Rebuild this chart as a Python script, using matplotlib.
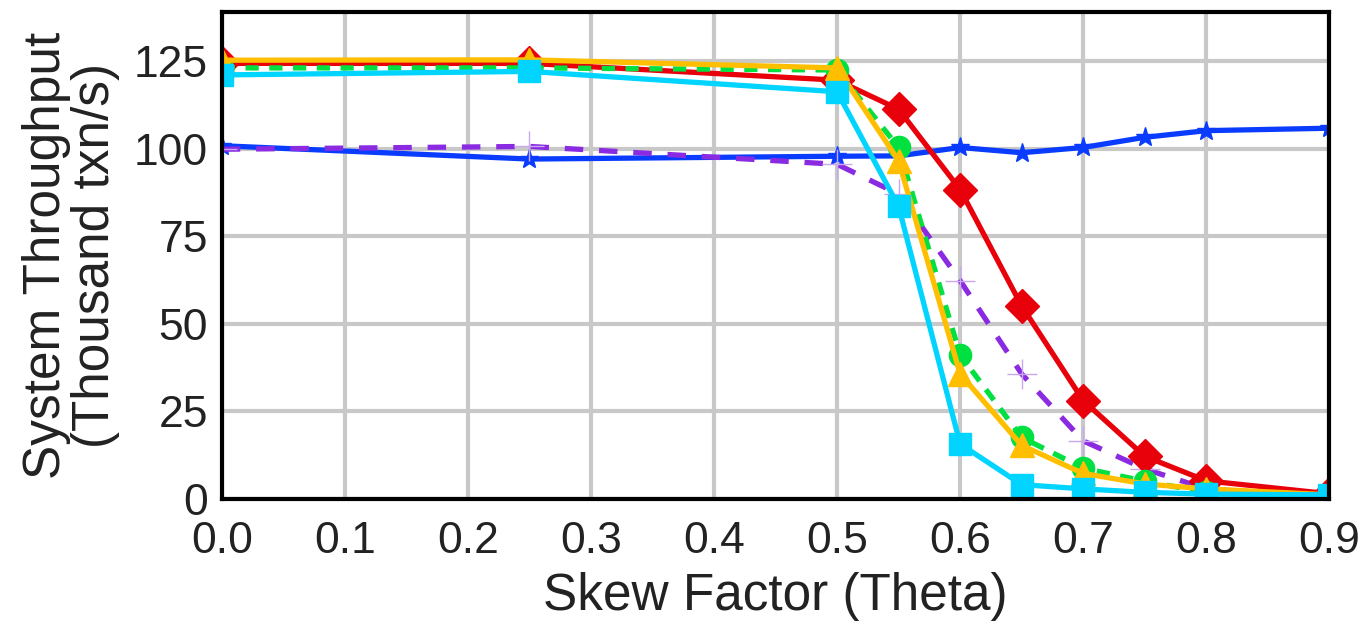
import matplotlib.pyplot as plt

plt.rcParams['font.family'] = ['Liberation Sans', 'DejaVu Sans']

# skew factor values
theta = [0.0, 0.25, 0.5, 0.55, 0.6, 0.65, 0.7, 0.75, 0.8, 0.9]

# throughput (thousand txn/s) per series
blue_star = [100.8, 97.0, 97.8, 97.9, 100.3, 98.8, 100.3, 103.2, 105.1, 105.8]
purple_plus = [99.8, 100.6, 95.5, 87.0, 62.3, 35.7, 16.6, 8.6, 2.9, 0.5]
red_diamond = [124.3, 124.3, 119.5, 111.2, 88.3, 55.1, 28.1, 12.2, 5.2, 1.5]
green_circle = [123.0, 123.0, 122.4, 100.3, 41.1, 17.6, 8.8, 5.1, 1.9, 0.8]
yellow_tri = [125.2, 125.3, 123.0, 96.5, 35.7, 15.3, 7.3, 4.3, 2.9, 1.2]
cyan_square = [121.0, 122.0, 116.2, 83.5, 15.7, 4.1, 2.9, 1.9, 1.4, 1.2]

fig = plt.figure(figsize=(13.69, 6.23), dpi=100)
ax = fig.add_axes([0.162, 0.199, 0.809, 0.782])

lw = 3.8
ax.plot(theta, blue_star, color='#0a3cff', lw=lw, marker='*', ms=14, zorder=3)
ax.plot(theta, purple_plus, color='#8a2be2', lw=lw, ls=(0, (3.5, 3)),
        marker='+', ms=22, mew=1, mec='#c9a8f0', zorder=3)
ax.plot(theta, red_diamond, color='#e8000b', lw=lw, marker='D', ms=17, zorder=4)
ax.plot(theta, green_circle, color='#00e040', lw=lw, ls=(0, (2.5, 2)),
        marker='o', ms=16, zorder=5)
ax.plot(theta, yellow_tri, color='#ffbf00', lw=lw, marker='^', ms=17, zorder=6)
ax.plot(theta, cyan_square, color='#00d4ff', lw=lw, marker='s', ms=16, zorder=7)

ax.set_xlim(0, 0.9)
ax.set_ylim(0, 139)
ax.set_xticks([0.0, 0.1, 0.2, 0.3, 0.4, 0.5, 0.6, 0.7, 0.8, 0.9])
ax.set_xticklabels(['0.0', '0.1', '0.2', '0.3', '0.4', '0.5', '0.6', '0.7', '0.8', '0.9'])
ax.set_yticks([0, 25, 50, 75, 100, 125])
ax.grid(True, color='#c8c8c8', lw=3)
ax.set_axisbelow(True)
ax.tick_params(length=0, labelsize=32, labelcolor='#222222')
ax.tick_params(axis='y', pad=10)
ax.tick_params(axis='x', pad=16)
for s in ax.spines.values():
    s.set_linewidth(3)
    s.set_color('black')
    s.set_zorder(10)

ax.set_xlabel('Skew Factor (Theta)', fontsize=37, color='#222222', labelpad=7)
ax.set_ylabel('System Throughput\n(Thousand txn/s)', fontsize=37,
              color='#222222', labelpad=10, linespacing=1.0)

fig.savefig('out.png', dpi=100)
